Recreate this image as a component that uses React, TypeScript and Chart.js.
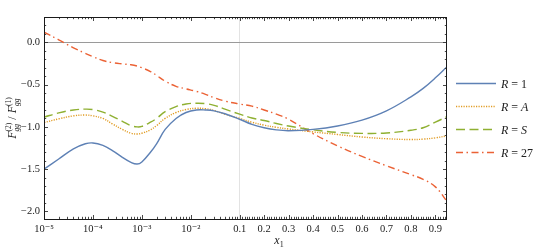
import React, { useEffect, useRef } from 'react';
import { Chart, registerables } from 'chart.js';

Chart.register(...registerables);

// ---------- data ----------
const xValues = [
  1e-5, 2e-5, 4e-5, 7e-5, 1e-4, 1.6e-4, 2.5e-4, 4e-4, 6e-4, 8e-4,
  1e-3, 1.5e-3, 2e-3, 3e-3, 5e-3, 8e-3, 1.3e-2, 2e-2, 3e-2, 5e-2, 0.1,
  0.15, 0.2, 0.25, 0.3, 0.4, 0.5, 0.6, 0.7, 0.8, 0.85, 0.9, 0.95,
];
const seriesR1 = [
  -1.5, -1.38, -1.26, -1.2, -1.19, -1.22, -1.28, -1.36, -1.42, -1.44,
  -1.415, -1.3, -1.2, -1.03, -0.9, -0.83, -0.8, -0.8, -0.81, -0.845, -0.91,
  -0.97, -1.01, -1.035, -1.045, -1.03, -0.99, -0.92, -0.81, -0.645, -0.545, -0.42, -0.28,
];
const seriesRA = [
  -0.95, -0.905, -0.87, -0.86, -0.87, -0.9, -0.965, -1.03, -1.075, -1.085,
  -1.075, -1.035, -0.985, -0.9, -0.83, -0.795, -0.78, -0.785, -0.805, -0.85, -0.9,
  -0.945, -0.98, -1.005, -1.025, -1.06, -1.09, -1.12, -1.14, -1.15, -1.145, -1.13, -1.105,
];
const seriesRS = [
  -0.885, -0.835, -0.8, -0.79, -0.795, -0.825, -0.875, -0.935, -0.985, -1.0,
  -0.995, -0.945, -0.9, -0.82, -0.76, -0.73, -0.72, -0.725, -0.745, -0.79, -0.85,
  -0.895, -0.925, -0.96, -0.99, -1.035, -1.065, -1.077, -1.072, -1.04, -1.01, -0.945, -0.875,
];
const seriesR27 = [
  0.12, 0.03, -0.065, -0.13, -0.17, -0.215, -0.24, -0.255, -0.265, -0.28,
  -0.3, -0.345, -0.39, -0.46, -0.52, -0.55, -0.58, -0.615, -0.655, -0.695, -0.73,
  -0.755, -0.8, -0.85, -0.91, -1.08, -1.225, -1.35, -1.46, -1.565, -1.62, -1.71, -1.89,
];
const seriesLabels = ['R = 1', 'R = A', 'R = S', 'R = 27'];
const seriesColors = ['#5E81B5', '#E19C24', '#8FB032', '#EB6235'];
const seriesDashes: number[][] = [[], [1.2, 1.3], [9, 4.5], [7, 3.5, 1.5, 3.5]];

const xTickValues = [1e-5, 1e-4, 1e-3, 1e-2, 0.1, 0.2, 0.3, 0.4, 0.5, 0.6, 0.7, 0.8, 0.9];
const xTickLabels = ['10⁻⁵', '10⁻⁴', '10⁻³', '10⁻²', '0.1', '0.2', '0.3', '0.4', '0.5', '0.6', '0.7', '0.8', '0.9'];
const yTickValues = [0, -0.5, -1, -1.5, -2];
const yTickLabels = ['0.0', '−0.5', '−1.0', '−1.5', '−2.0'];

const xMin = 1e-5;
const xMax = 0.9475;
const yMin = -2.09;
const yMax = 0.3;

// piecewise log/linear axis: logarithmic up to 0.1, linear above
const BREAK = 0.1;
const LIN_FACTOR = 5;
const toAxis = (x: number) =>
  x <= BREAK ? Math.log10(x / xMin) : Math.log10(BREAK / xMin) + (x - BREAK) * LIN_FACTOR;

const SERIF = "'Liberation Serif', 'DejaVu Serif', serif";

type Seg = { t: string; it?: boolean; size: number; dy?: number };
type Piece = Seg | { stack: Seg[] };

function segFont(s: Seg) {
  return `${s.it ? 'italic ' : ''}${s.size}px ${SERIF}`;
}
function measurePieces(ctx: CanvasRenderingContext2D, pieces: Piece[]) {
  let w = 0;
  for (const p of pieces) {
    if ('stack' in p) {
      let m = 0;
      for (const s of p.stack) {
        ctx.font = segFont(s);
        m = Math.max(m, ctx.measureText(s.t).width);
      }
      w += m;
    } else {
      ctx.font = segFont(p);
      w += ctx.measureText(p.t).width;
    }
  }
  return w;
}
function drawPieces(ctx: CanvasRenderingContext2D, pieces: Piece[], x: number, y: number) {
  let cx = x;
  ctx.textBaseline = 'alphabetic';
  ctx.textAlign = 'left';
  for (const p of pieces) {
    if ('stack' in p) {
      let m = 0;
      for (const s of p.stack) {
        ctx.font = segFont(s);
        ctx.fillText(s.t, cx, y + (s.dy || 0));
        m = Math.max(m, ctx.measureText(s.t).width);
      }
      cx += m;
    } else {
      ctx.font = segFont(p);
      ctx.fillText(p.t, cx, y + (p.dy || 0));
      cx += ctx.measureText(p.t).width;
    }
  }
}
function labelPieces(label: string, size: number): Piece[] {
  return label.split('').map((ch) => ({ t: ch, it: /[A-Za-z]/.test(ch), size }));
}

const framePlugin = {
  id: 'framePlugin',
  afterDatasetsDraw(chart: any) {
    const { ctx, chartArea: a, scales } = chart;
    const sx = scales.x;
    const sy = scales.y;
    ctx.save();

    // ticks (inward, all four sides)
    ctx.strokeStyle = '#333';
    ctx.lineWidth = 0.9;
    const xMinor: number[] = [];
    for (let d = -5; d <= -2; d++) for (let m = 2; m <= 9; m++) xMinor.push(m * Math.pow(10, d));
    for (let k = 11; k <= 94; k++) if (k % 10 !== 0) xMinor.push(k / 100);
    const vtick = (v: number, len: number) => {
      const px = Math.round(sx.getPixelForValue(toAxis(v))) + 0.5;
      if (px < a.left || px > a.right) return;
      ctx.beginPath();
      ctx.moveTo(px, a.bottom);
      ctx.lineTo(px, a.bottom - len);
      ctx.moveTo(px, a.top);
      ctx.lineTo(px, a.top + len);
      ctx.stroke();
    };
    xTickValues.forEach((v) => vtick(v, 4));
    xMinor.forEach((v) => vtick(v, 2.2));
    const htick = (v: number, len: number) => {
      const py = Math.round(sy.getPixelForValue(v)) + 0.5;
      if (py < a.top || py > a.bottom) return;
      ctx.beginPath();
      ctx.moveTo(a.left, py);
      ctx.lineTo(a.left + len, py);
      ctx.moveTo(a.right, py);
      ctx.lineTo(a.right - len, py);
      ctx.stroke();
    };
    for (let k = -20; k <= 3; k++) {
      htick(k / 10, k % 5 === 0 ? 4 : 2.2);
    }

    // frame
    ctx.strokeStyle = '#1a1a1a';
    ctx.lineWidth = 1;
    ctx.strokeRect(Math.round(a.left) + 0.5, Math.round(a.top) + 0.5, Math.round(a.right - a.left) - 1, Math.round(a.bottom - a.top));

    // legend
    const lx0 = a.right + 9;
    const lx1 = a.right + 49;
    const ly0 = 83;
    const lstep = 23;
    seriesLabels.forEach((lab, i) => {
      const y = ly0 + i * lstep;
      ctx.strokeStyle = seriesColors[i];
      ctx.lineWidth = 1.4;
      ctx.setLineDash(seriesDashes[i]);
      ctx.beginPath();
      ctx.moveTo(lx0, y + 0.5);
      ctx.lineTo(lx1, y + 0.5);
      ctx.stroke();
      ctx.setLineDash([]);
      ctx.fillStyle = '#222';
      drawPieces(ctx, labelPieces(lab, 12), lx1 + 5, y + 4.5);
    });

    // axis titles
    ctx.fillStyle = '#222';
    const xt: Piece[] = [{ t: 'x', it: true, size: 12 }, { t: '1', size: 8, dy: 3 }];
    const xw = measurePieces(ctx, xt);
    drawPieces(ctx, xt, 279 - xw / 2, 244);

    const yt: Piece[] = [
      { t: 'F', it: true, size: 12 },
      { stack: [{ t: '(2)', size: 7.5, dy: -5 }, { t: 'gg', it: true, size: 7.5, dy: 3 }] },
      { t: ' / ', size: 12 },
      { t: 'F', it: true, size: 12 },
      { stack: [{ t: '(1)', size: 7.5, dy: -5 }, { t: 'gg', it: true, size: 7.5, dy: 3 }] },
    ];
    const yw = measurePieces(ctx, yt);
    ctx.translate(16, (a.top + a.bottom) / 2);
    ctx.rotate(-Math.PI / 2);
    drawPieces(ctx, yt, -yw / 2, 0);

    ctx.restore();
  },
};

export default function App() {
  const ref = useRef<HTMLCanvasElement>(null);
  useEffect(() => {
    const canvas = ref.current;
    if (!canvas) return;
    const all = [seriesR1, seriesRA, seriesRS, seriesR27];
    const chart = new Chart(canvas, {
      type: 'line',
      data: {
        datasets: all.map((ys, i) => ({
          label: seriesLabels[i],
          data: xValues.map((x, j) => ({ x: toAxis(x), y: ys[j] })),
          borderColor: seriesColors[i],
          backgroundColor: seriesColors[i],
          borderWidth: 1.4,
          borderDash: seriesDashes[i],
          pointRadius: 0,
          fill: false,
          tension: 0.4,
        })),
      },
      options: {
        responsive: false,
        animation: false,
        devicePixelRatio: 1,
        layout: { padding: { top: 17, right: 92, left: 0, bottom: 0 } },
        plugins: { legend: { display: false }, tooltip: { enabled: false } },
        scales: {
          x: {
            type: 'linear',
            min: toAxis(xMin),
            max: toAxis(xMax),
            afterBuildTicks: (s: any) => {
              s.ticks = xTickValues.map((v) => ({ value: toAxis(v) }));
            },
            afterFit: (s: any) => {
              s.height = 29;
            },
            ticks: {
              autoSkip: false,
              maxRotation: 0,
              minRotation: 0,
              padding: 4,
              color: '#222',
              font: { family: SERIF, size: 10.5 },
              callback: (_v: any, i: number) => xTickLabels[i],
            },
            grid: {
              drawTicks: false,
              lineWidth: 1,
              color: (c: any) =>
                c.tick && Math.abs(c.tick.value - toAxis(BREAK)) < 1e-9 ? '#e3e3e3' : 'rgba(0,0,0,0)',
            },
            border: { display: false },
          },
          y: {
            type: 'linear',
            min: yMin,
            max: yMax,
            afterBuildTicks: (s: any) => {
              s.ticks = yTickValues.map((v) => ({ value: v }));
            },
            afterFit: (s: any) => {
              s.width = 44;
            },
            ticks: {
              autoSkip: false,
              padding: 4,
              color: '#222',
              font: { family: SERIF, size: 10.5 },
              callback: (_v: any, i: number) => yTickLabels[i],
            },
            grid: {
              drawTicks: false,
              lineWidth: 1,
              color: (c: any) => (c.tick && c.tick.value === 0 ? '#9a9a9a' : 'rgba(0,0,0,0)'),
            },
            border: { display: false },
          },
        },
      },
      plugins: [framePlugin],
    } as any);
    return () => chart.destroy();
  }, []);
  return (
    <canvas
      ref={ref}
      width={539}
      height={248}
      style={{ position: 'absolute', left: 0, top: 0, display: 'block', width: 539, height: 248 }}
    />
  );
}
